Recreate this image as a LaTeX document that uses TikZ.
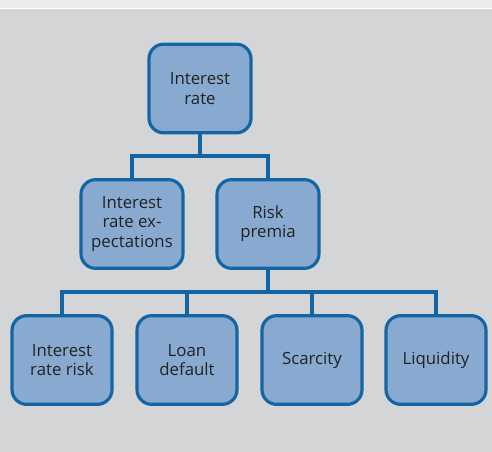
\documentclass[tikz,border=0pt]{standalone}
\usepackage{fontspec}
\setmainfont{Open Sans}
\definecolor{bg}{HTML}{D4D5D7}
\definecolor{strip}{HTML}{EBEBED}
\definecolor{boxfill}{HTML}{88AAD0}
\definecolor{boxline}{HTML}{1565A5}
\definecolor{txt}{HTML}{222222}
\begin{document}
\begin{tikzpicture}[x=0.75pt,y=-0.75pt,
  box/.style={draw=boxline,fill=boxfill,line width=2.4pt,rounded corners=11pt,
    minimum width=76.5pt,minimum height=66.5pt,inner sep=0pt,align=center,
    text=txt,font=\fontsize{12.6}{14.4}\selectfont},
  link/.style={draw=boxline,line width=2.4pt}]
\useasboundingbox (0,0) rectangle (492,452);
\fill[bg] (0,0) rectangle (492,452);
\fill[strip] (0,0) rectangle (492,8);
\fill[white] (0,8) rectangle (492,9.3);
\node[box] (ir) at (200,88.5) {Interest\\rate};
\node[box] (ire) at (132,224) {Interest\\rate ex-\\pectations};
\node[box] (rp) at (268,224) {Risk\\premia};
\node[box,minimum width=75pt] (irr) at (62,360) {Interest\\rate risk};
\node[box,minimum width=75pt] (ld) at (187,360) {Loan\\default};
\node[box,minimum width=75pt] (sc) at (312,360) {Scarcity};
\node[box,minimum width=75pt] (lq) at (436,360) {Liquidity};
\coordinate (j1) at (200,156);
\coordinate (j2) at (268,292);
\draw[link] (ir.south) -- (j1);
\draw[link] (ire.north) |- (j1) -| (rp.north);
\draw[link] (rp.south) -- (j2);
\draw[link] (irr.north) |- (j2) -| (lq.north);
\draw[link] (ld.north) -- (ld.north |- j2);
\draw[link] (sc.north) -- (sc.north |- j2);
\end{tikzpicture}
\end{document}
